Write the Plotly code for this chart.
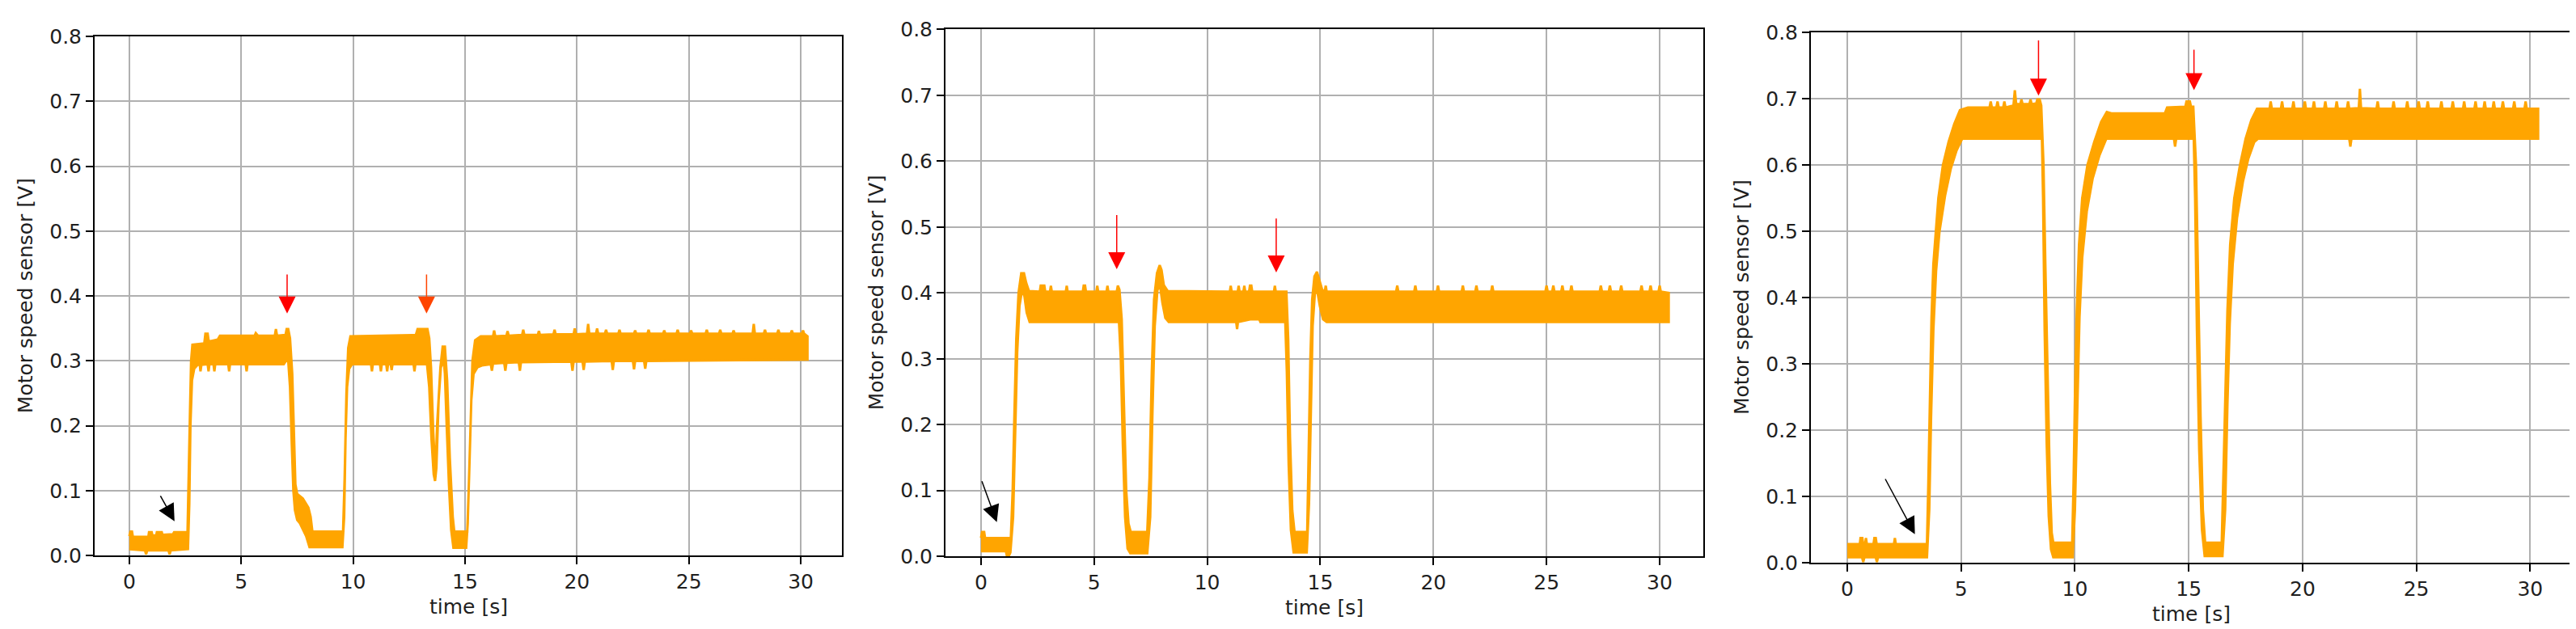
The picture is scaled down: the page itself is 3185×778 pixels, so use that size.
import plotly.graph_objects as go

# ---------------- data ----------------
X_TICKS = [0, 5, 10, 15, 20, 25, 30]
Y_TICKS = [0.0, 0.1, 0.2, 0.3, 0.4, 0.5, 0.6, 0.7, 0.8]
Y_TICK_LABELS = ["0.0", "0.1", "0.2", "0.3", "0.4", "0.5", "0.6", "0.7", "0.8"]
X_LABEL = "time [s]"
Y_LABEL = "Motor speed sensor [V]"

# envelopes of the noisy sensor trace: (time [s], voltage [V])
P1_UPPER = [
    (0.00, 0.030), (0.05, 0.037), (0.12, 0.037), (0.16, 0.029), (0.85, 0.029), (0.88, 0.036),
    (1.00, 0.036), (1.03, 0.031), (1.20, 0.031), (1.23, 0.036), (1.45, 0.036), (1.48, 0.032),
    (1.95, 0.033), (2.00, 0.036), (2.60, 0.036),
    (2.66, 0.12), (2.71, 0.22), (2.76, 0.30), (2.82, 0.325), (3.35, 0.327), (3.40, 0.342),
    (3.50, 0.342), (3.55, 0.330), (3.95, 0.333), (4.05, 0.339), (5.60, 0.339), (5.65, 0.343),
    (5.75, 0.339), (6.50, 0.339), (6.55, 0.349), (6.60, 0.339), (6.98, 0.340), (7.03, 0.349),
    (7.10, 0.349), (7.18, 0.335),
    (7.28, 0.28), (7.36, 0.18), (7.42, 0.11), (7.50, 0.095), (7.75, 0.088), (8.00, 0.074),
    (8.10, 0.060), (8.18, 0.037), (9.55, 0.037),
    (9.62, 0.12), (9.70, 0.25), (9.78, 0.32), (9.88, 0.338), (12.80, 0.340), (12.88, 0.349),
    (13.32, 0.349), (13.40, 0.335),
    (13.48, 0.29), (13.58, 0.19), (13.68, 0.125), (13.75, 0.20), (13.90, 0.29), (14.00, 0.322),
    (14.10, 0.322), (14.20, 0.27), (14.32, 0.15), (14.45, 0.06), (14.52, 0.037), (15.10, 0.037),
    (15.18, 0.12), (15.25, 0.22), (15.33, 0.30), (15.45, 0.332), (15.70, 0.338),
    (16.25, 0.338), (16.30, 0.347), (16.35, 0.338), (16.85, 0.339), (16.90, 0.346), (16.95, 0.339),
    (17.55, 0.340), (17.60, 0.348), (17.65, 0.340), (18.25, 0.340), (18.30, 0.346), (18.35, 0.340),
    (18.95, 0.341), (19.00, 0.348), (19.05, 0.341), (19.85, 0.341), (19.90, 0.350), (19.95, 0.341),
    (20.45, 0.342), (20.50, 0.357), (20.55, 0.342), (20.85, 0.342), (20.90, 0.350), (20.95, 0.342),
    (21.25, 0.342), (21.30, 0.348), (21.35, 0.342), (21.85, 0.342), (21.90, 0.348), (21.95, 0.342),
    (22.55, 0.342), (22.60, 0.347), (22.65, 0.342), (23.15, 0.342), (23.20, 0.348), (23.25, 0.342),
    (23.85, 0.342), (23.90, 0.347), (23.95, 0.342), (24.45, 0.342), (24.50, 0.348), (24.55, 0.342),
    (25.05, 0.342), (25.10, 0.347), (25.15, 0.342), (25.75, 0.342), (25.80, 0.348), (25.85, 0.342),
    (26.35, 0.342), (26.40, 0.348), (26.45, 0.342), (26.95, 0.342), (27.00, 0.347), (27.05, 0.342),
    (27.85, 0.342), (27.90, 0.357), (27.95, 0.342), (28.35, 0.342), (28.40, 0.348), (28.45, 0.342),
    (28.95, 0.342), (29.00, 0.348), (29.05, 0.342), (29.55, 0.342), (29.60, 0.347), (29.65, 0.342),
    (30.05, 0.342), (30.10, 0.347), (30.15, 0.342), (30.30, 0.338),
]
P1_LOWER = [
    (0.00, 0.010), (0.70, 0.008), (0.75, 0.002), (0.80, 0.008), (1.75, 0.008), (1.80, 0.002),
    (1.85, 0.008), (2.62, 0.010),
    (2.68, 0.08), (2.73, 0.20), (2.80, 0.27), (2.90, 0.288), (3.05, 0.294), (3.15, 0.294),
    (3.18, 0.284), (3.22, 0.294), (3.50, 0.295), (3.54, 0.284), (3.58, 0.295), (3.76, 0.295),
    (3.80, 0.284), (3.84, 0.295), (4.42, 0.295), (4.46, 0.284), (4.50, 0.295), (5.20, 0.295),
    (5.24, 0.284), (5.28, 0.295), (6.90, 0.295), (7.00, 0.300), (7.10, 0.300),
    (7.18, 0.26), (7.26, 0.17), (7.33, 0.10), (7.40, 0.07), (7.50, 0.055), (7.62, 0.050),
    (7.90, 0.030), (8.05, 0.013), (9.52, 0.013),
    (9.60, 0.06), (9.66, 0.18), (9.73, 0.26), (9.82, 0.288), (9.95, 0.295), (10.80, 0.295),
    (10.84, 0.284), (10.88, 0.295), (11.20, 0.295), (11.24, 0.284), (11.28, 0.295), (11.48, 0.295),
    (11.52, 0.284), (11.56, 0.295), (11.68, 0.295), (11.72, 0.286), (11.76, 0.295), (12.70, 0.295),
    (12.74, 0.284), (12.78, 0.295), (13.30, 0.295),
    (13.40, 0.26), (13.50, 0.18), (13.60, 0.125), (13.66, 0.115), (13.72, 0.135), (13.82, 0.24),
    (13.92, 0.29), (14.05, 0.300), (14.10, 0.28), (14.18, 0.20), (14.28, 0.11), (14.38, 0.04),
    (14.48, 0.012), (15.05, 0.012),
    (15.12, 0.05), (15.20, 0.14), (15.28, 0.24), (15.38, 0.28), (15.55, 0.290), (15.75, 0.293),
    (16.15, 0.295), (16.20, 0.285), (16.25, 0.296), (16.75, 0.297), (16.80, 0.285), (16.85, 0.297),
    (17.40, 0.298), (17.45, 0.285), (17.50, 0.298), (19.75, 0.299), (19.80, 0.285), (19.85, 0.299),
    (20.25, 0.299), (20.30, 0.286), (20.35, 0.299), (21.55, 0.300), (21.60, 0.286), (21.65, 0.300),
    (22.50, 0.300), (22.55, 0.287), (22.60, 0.300), (23.00, 0.300), (23.05, 0.288), (23.10, 0.300),
    (30.30, 0.302),
]

P2_UPPER = [
    (0.00, 0.028), (0.05, 0.037), (0.14, 0.037), (0.18, 0.028), (1.32, 0.028),
    (1.40, 0.10), (1.48, 0.22), (1.56, 0.33), (1.66, 0.40), (1.78, 0.430), (1.90, 0.430),
    (2.00, 0.415), (2.12, 0.403), (2.60, 0.402), (2.64, 0.411), (2.80, 0.411), (2.84, 0.402),
    (3.05, 0.402), (3.09, 0.411), (3.13, 0.402), (3.75, 0.402), (3.79, 0.411), (3.83, 0.402),
    (4.50, 0.402), (4.54, 0.411), (4.60, 0.411), (4.64, 0.402), (5.10, 0.402), (5.14, 0.411),
    (5.18, 0.402), (5.55, 0.402), (5.59, 0.411), (5.63, 0.402), (6.00, 0.402), (6.05, 0.411),
    (6.12, 0.405),
    (6.22, 0.36), (6.32, 0.22), (6.42, 0.10), (6.52, 0.05), (6.62, 0.037), (7.35, 0.037),
    (7.45, 0.12), (7.55, 0.28), (7.65, 0.39), (7.78, 0.43), (7.90, 0.442), (7.98, 0.435),
    (8.08, 0.412), (8.25, 0.403), (11.00, 0.402), (11.04, 0.411), (11.08, 0.402), (11.35, 0.402),
    (11.39, 0.411), (11.43, 0.402), (11.60, 0.402), (11.64, 0.411), (11.68, 0.402), (11.85, 0.402),
    (11.89, 0.411), (11.95, 0.411), (11.99, 0.402), (12.95, 0.402), (12.99, 0.411), (13.03, 0.402),
    (13.50, 0.402),
    (13.58, 0.33), (13.66, 0.18), (13.76, 0.07), (13.86, 0.037), (14.42, 0.037),
    (14.48, 0.15), (14.56, 0.30), (14.64, 0.39), (14.74, 0.425), (14.85, 0.432), (14.95, 0.42),
    (15.08, 0.405), (15.20, 0.403), (15.24, 0.411), (15.28, 0.402),
    (18.35, 0.402), (18.40, 0.411), (18.45, 0.402), (19.15, 0.402), (19.20, 0.411), (19.25, 0.402),
    (20.15, 0.402), (20.20, 0.411), (20.25, 0.402), (21.25, 0.402), (21.30, 0.411), (21.35, 0.402),
    (21.85, 0.402), (21.90, 0.411), (21.95, 0.402), (22.55, 0.402), (22.60, 0.411), (22.65, 0.402),
    (24.95, 0.402), (25.00, 0.411), (25.05, 0.402), (25.25, 0.402), (25.30, 0.411), (25.35, 0.402),
    (25.65, 0.402), (25.70, 0.411), (25.75, 0.402), (26.05, 0.402), (26.10, 0.411), (26.15, 0.402),
    (27.35, 0.402), (27.40, 0.411), (27.45, 0.402), (27.75, 0.402), (27.80, 0.411), (27.85, 0.402),
    (28.25, 0.402), (28.30, 0.411), (28.35, 0.402), (29.15, 0.402), (29.20, 0.411), (29.25, 0.402),
    (29.55, 0.402), (29.60, 0.411), (29.65, 0.402), (29.95, 0.402), (30.00, 0.411), (30.05, 0.402),
    (30.40, 0.400),
]
P2_LOWER = [
    (0.00, 0.008), (1.10, 0.008), (1.15, 0.000), (1.22, 0.000), (1.30, 0.006),
    (1.42, 0.06), (1.52, 0.20), (1.60, 0.31), (1.70, 0.38), (1.82, 0.405), (1.92, 0.395),
    (2.02, 0.37), (2.15, 0.356), (6.10, 0.356),
    (6.18, 0.30), (6.27, 0.17), (6.37, 0.06), (6.48, 0.012), (6.60, 0.005), (7.35, 0.005),
    (7.48, 0.06), (7.58, 0.22), (7.68, 0.35), (7.80, 0.405), (7.92, 0.41), (8.02, 0.385),
    (8.15, 0.362), (8.30, 0.356), (11.28, 0.356), (11.32, 0.345), (11.36, 0.356), (11.90, 0.360),
    (12.30, 0.360), (12.35, 0.356), (13.45, 0.356),
    (13.52, 0.28), (13.60, 0.14), (13.70, 0.04), (13.82, 0.006), (14.40, 0.006),
    (14.50, 0.08), (14.58, 0.22), (14.66, 0.35), (14.76, 0.40), (14.88, 0.40), (14.98, 0.38),
    (15.12, 0.36), (15.28, 0.356), (30.40, 0.356),
]

P3_UPPER = [
    (0.00, 0.028), (0.55, 0.028), (0.58, 0.037), (0.66, 0.037), (0.70, 0.028), (0.78, 0.028),
    (0.82, 0.037), (0.86, 0.028), (1.15, 0.028), (1.19, 0.037), (1.25, 0.037), (1.29, 0.028),
    (2.05, 0.028), (2.09, 0.037), (2.13, 0.028), (3.50, 0.028),
    (3.56, 0.12), (3.63, 0.25), (3.70, 0.37), (3.78, 0.45), (3.88, 0.50), (4.00, 0.55),
    (4.20, 0.60), (4.45, 0.635), (4.70, 0.662), (4.95, 0.683), (5.30, 0.687), (6.25, 0.687),
    (6.30, 0.696), (6.35, 0.687), (6.55, 0.687), (6.60, 0.696), (6.65, 0.687), (6.85, 0.687),
    (6.90, 0.696), (6.95, 0.687), (7.30, 0.690), (7.36, 0.713), (7.42, 0.692), (7.60, 0.692),
    (7.65, 0.699), (7.70, 0.692), (8.00, 0.692), (8.05, 0.699), (8.10, 0.692), (8.30, 0.693),
    (8.35, 0.699), (8.45, 0.699), (8.52, 0.690),
    (8.62, 0.60), (8.70, 0.45), (8.80, 0.27), (8.90, 0.12), (8.98, 0.045), (9.05, 0.030),
    (9.88, 0.030),
    (9.94, 0.12), (10.00, 0.25), (10.08, 0.38), (10.18, 0.48), (10.32, 0.55), (10.55, 0.60),
    (10.85, 0.635), (11.15, 0.665), (11.40, 0.680), (11.60, 0.678), (13.95, 0.678), (14.05, 0.687),
    (14.85, 0.688), (14.90, 0.696), (15.05, 0.696), (15.10, 0.688), (15.20, 0.688),
    (15.32, 0.60), (15.42, 0.40), (15.52, 0.22), (15.62, 0.08), (15.72, 0.030), (16.45, 0.030),
    (16.52, 0.12), (16.60, 0.25), (16.70, 0.38), (16.82, 0.48), (17.00, 0.55), (17.25, 0.60),
    (17.50, 0.64), (17.75, 0.668), (18.00, 0.685),
    (18.55, 0.685), (18.60, 0.696), (18.65, 0.685), (19.05, 0.685), (19.10, 0.696), (19.15, 0.685),
    (19.55, 0.685), (19.60, 0.696), (19.65, 0.685), (20.05, 0.685), (20.10, 0.696), (20.15, 0.685),
    (20.45, 0.685), (20.50, 0.696), (20.55, 0.685), (20.95, 0.685), (21.00, 0.696), (21.05, 0.685),
    (21.45, 0.685), (21.50, 0.696), (21.55, 0.685), (21.95, 0.685), (22.00, 0.696), (22.05, 0.685),
    (22.47, 0.686), (22.52, 0.715), (22.57, 0.686), (23.25, 0.685), (23.30, 0.696), (23.35, 0.685),
    (23.95, 0.685), (24.00, 0.696), (24.05, 0.685), (24.55, 0.685), (24.60, 0.696), (24.65, 0.685),
    (25.05, 0.685), (25.10, 0.696), (25.15, 0.685), (25.45, 0.685), (25.50, 0.696), (25.55, 0.685),
    (26.05, 0.685), (26.10, 0.696), (26.15, 0.685), (26.55, 0.685), (26.60, 0.696), (26.65, 0.685),
    (27.05, 0.685), (27.10, 0.696), (27.15, 0.685), (27.55, 0.685), (27.60, 0.696), (27.65, 0.685),
    (27.95, 0.685), (28.00, 0.696), (28.05, 0.685), (28.35, 0.685), (28.40, 0.696), (28.45, 0.685),
    (28.75, 0.685), (28.80, 0.696), (28.85, 0.685), (29.25, 0.685), (29.30, 0.696), (29.35, 0.685),
    (29.75, 0.685), (29.80, 0.696), (29.85, 0.685), (30.35, 0.685),
]
P3_LOWER = [
    (0.00, 0.008), (0.65, 0.008), (0.70, 0.001), (0.75, 0.008), (1.25, 0.008), (1.30, 0.001),
    (1.35, 0.008), (3.50, 0.008),
    (3.60, 0.08), (3.68, 0.22), (3.78, 0.35), (3.90, 0.44), (4.05, 0.50), (4.30, 0.555),
    (4.55, 0.595), (4.80, 0.622), (5.05, 0.640), (8.55, 0.640),
    (8.60, 0.55), (8.67, 0.35), (8.76, 0.18), (8.85, 0.07), (8.95, 0.020), (9.05, 0.008),
    (9.90, 0.008),
    (10.00, 0.08), (10.10, 0.24), (10.20, 0.37), (10.32, 0.46), (10.52, 0.53), (10.78, 0.58),
    (11.08, 0.615), (11.38, 0.640), (14.35, 0.640), (14.40, 0.628), (14.45, 0.640), (15.22, 0.640),
    (15.28, 0.55), (15.36, 0.35), (15.46, 0.17), (15.58, 0.05), (15.70, 0.010), (16.48, 0.010),
    (16.60, 0.08), (16.70, 0.24), (16.80, 0.36), (16.93, 0.45), (17.12, 0.52), (17.38, 0.575),
    (17.62, 0.61), (17.88, 0.635), (18.05, 0.640), (22.05, 0.640), (22.10, 0.628), (22.15, 0.640),
    (30.35, 0.640),
]

# arrows: (tip_t, tip_v, tail_t, tail_v, colour)
P1_ARROWS = [(7.05, 0.373, 7.05, 0.435, "#ff0000"), (13.28, 0.373, 13.28, 0.435, "#ff4500"),
             (2.02, 0.053, 1.36, 0.094, "#000000")]
P2_ARROWS = [(6.0, 0.436, 6.0, 0.52, "#ff0000"), (13.05, 0.431, 13.05, 0.515, "#ff0000"),
             (0.70, 0.052, 0.02, 0.116, "#000000")]
P3_ARROWS = [(8.4, 0.705, 8.4, 0.79, "#ff0000"), (15.23, 0.713, 15.23, 0.776, "#ff0000"),
             (2.97, 0.043, 1.64, 0.128, "#000000")]

# ---------------- layout geometry (pixels of the 3185x778 canvas) ----------------
W, H = 3185, 778
PANELS = [
    dict(upper=P1_UPPER, lower=P1_LOWER, arrows=P1_ARROWS, px=(109, 1033), py=(24, 691),
         xrange=(-1.55, 31.84)),
    dict(upper=P2_UPPER, lower=P2_LOWER, arrows=P2_ARROWS, px=(1161, 2098), py=(15, 692),
         xrange=(-1.57, 31.93)),
    dict(upper=P3_UPPER, lower=P3_LOWER, arrows=P3_ARROWS, px=(2231, 3171), py=(19, 700),
         xrange=(-1.60, 31.80)),
]

ORANGE = "#FFA500"
FONT = "DejaVu Sans"
TXT = "#1f1f1f"
FS = 25

fig = go.Figure()
annotations = []
layout = dict(
    width=W, height=H, margin=dict(l=0, r=0, t=0, b=0),
    paper_bgcolor="white", plot_bgcolor="white",
    font=dict(family=FONT, size=FS, color=TXT), showlegend=False,
)

for i, p in enumerate(PANELS, start=1):
    sfx = "" if i == 1 else str(i)
    xa, ya = "x" + sfx, "y" + sfx
    t = [a for a, _ in p["upper"]] + [a for a, _ in reversed(p["lower"])]
    v = [b for _, b in p["upper"]] + [b for _, b in reversed(p["lower"])]
    fig.add_trace(go.Scatter(
        x=t, y=v, mode="lines", fill="toself", fillcolor=ORANGE,
        line=dict(color=ORANGE, width=3), xaxis=xa, yaxis=ya, hoverinfo="skip",
    ))
    x0, x1 = p["px"]
    y0, y1 = p["py"]
    common = dict(
        showline=True, linecolor="#000000", linewidth=2, mirror=True,
        ticks="outside", ticklen=9, tickwidth=2, tickcolor="#000000",
        showgrid=True, gridcolor="#b0b0b0", gridwidth=2, zeroline=False,
        tickfont=dict(family=FONT, size=FS, color=TXT),
    )
    layout["xaxis" + sfx] = dict(
        domain=[x0 / W, x1 / W], range=list(p["xrange"]), tickvals=X_TICKS,
        anchor=ya, **common,
    )
    layout["yaxis" + sfx] = dict(
        domain=[1 - y1 / H, 1 - y0 / H], range=[0, 0.8], tickvals=Y_TICKS,
        ticktext=Y_TICK_LABELS, anchor=xa, **common,
    )
    # axis titles
    annotations.append(dict(
        text=X_LABEL, xref=xa + " domain", yref=ya + " domain", x=0.5,
        y=-(66 / (y1 - y0)), xanchor="center", yanchor="middle", showarrow=False,
        font=dict(family=FONT, size=FS, color=TXT),
    ))
    annotations.append(dict(
        text=Y_LABEL, xref=xa + " domain", yref=ya + " domain", x=-(86 / (x1 - x0)),
        y=0.5, xanchor="center", yanchor="middle", textangle=-90, showarrow=False,
        font=dict(family=FONT, size=FS, color=TXT),
    ))
    for tip_t, tip_v, tail_t, tail_v, col in p["arrows"]:
        annotations.append(dict(
            x=tip_t, y=tip_v, ax=tail_t, ay=tail_v, xref=xa, yref=ya, axref=xa, ayref=ya,
            text="", showarrow=True, arrowhead=2, arrowsize=2.8, arrowwidth=1.5,
            arrowcolor=col, standoff=0,
        ))

layout["annotations"] = annotations
fig.update_layout(**layout)
fig.write_html("out.html")
